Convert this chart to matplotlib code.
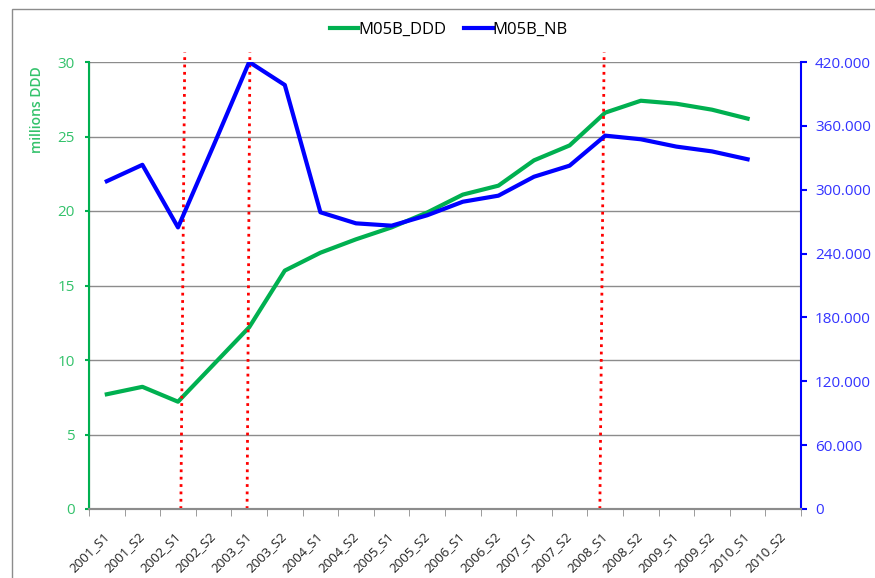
import matplotlib.pyplot as plt
from matplotlib.patches import Rectangle
from matplotlib.ticker import FuncFormatter, MultipleLocator

plt.rcParams['font.family'] = ['Open Sans', 'DejaVu Sans']

# categories (half-years), 2010_S2 has no data yet
periods = ['2001_S1', '2001_S2', '2002_S1', '2002_S2', '2003_S1', '2003_S2',
           '2004_S1', '2004_S2', '2005_S1', '2005_S2', '2006_S1', '2006_S2',
           '2007_S1', '2007_S2', '2008_S1', '2008_S2', '2009_S1', '2009_S2',
           '2010_S1', '2010_S2']

# millions of DDD (left axis)
ddd = [7.7, 8.2, 7.2, 9.7, 12.2, 16.0, 17.2, 18.1, 18.9, 19.9, 21.1, 21.7,
       23.4, 24.4, 26.6, 27.4, 27.2, 26.8, 26.2]

# number of boxes (right axis)
nb = [308000, 323400, 264600, 341600, 420000, 398400, 278800, 268400, 266200,
      276000, 288700, 294400, 312200, 322600, 350800, 347400, 340500, 336000,
      328600]

# red dotted markers (bottom x, top x) in category units
events = [(2.08, 2.19), (3.94, 4.02), (13.85, 13.97)]

green = '#00B050'
blue = '#0000FF'

fig = plt.figure(figsize=(8.75, 5.78), dpi=100)
fig.patches.append(Rectangle((12 / 875, -0.1), 1.2, 1.1 - 9 / 578,
                             transform=fig.transFigure, fill=False,
                             edgecolor='#8c8c8c', linewidth=1))

ax = fig.add_axes([89 / 875, 69 / 578, 712 / 875, 447 / 578])
ax2 = ax.twinx()

x = list(range(len(ddd)))
l1, = ax.plot(x, ddd, color=green, linewidth=3, label='M05B_DDD',
              solid_joinstyle='round', zorder=3)
l2, = ax2.plot(x, nb, color=blue, linewidth=3, label='M05B_NB',
               solid_joinstyle='round', zorder=3)

ax.set_xlim(-0.5, len(periods) - 0.5)
ax.set_ylim(0, 30)
ax2.set_ylim(0, 420000)
ax.yaxis.set_major_locator(MultipleLocator(5))
ax2.yaxis.set_major_locator(MultipleLocator(60000))
ax2.yaxis.set_major_formatter(
    FuncFormatter(lambda v, p: '0' if v == 0 else f'{int(v):,}'.replace(',', '.')))

ax.grid(axis='y', color='#8c8c8c', linewidth=1)
ax.set_axisbelow(True)

# category labels at centres, tick marks at the boundaries
ax.set_xticks(x + [len(ddd)])
ax.set_xticklabels(periods, rotation=45, ha='right', va='center',
                   rotation_mode='anchor', fontsize=9.5, color='#222222')
ax.set_xticks([i - 0.5 for i in range(len(periods) + 1)], minor=True)
ax.tick_params(axis='x', which='major', length=0, pad=18)
ax.tick_params(axis='x', which='minor', length=5, color='#8c8c8c')

ax.tick_params(axis='y', colors=green, labelcolor='#33C26B', labelsize=11,
               length=3, width=1.5, pad=7)
ax2.tick_params(axis='y', colors=blue, labelcolor='#3333FF', labelsize=11,
                length=4, width=1.5, pad=6)

for a in (ax, ax2):
    a.spines['top'].set_visible(False)
    a.spines['bottom'].set_color('#8c8c8c')
    a.spines['bottom'].set_linewidth(1.5)
ax.spines['right'].set_visible(False)
ax2.spines['left'].set_color(green)
ax2.spines['left'].set_linewidth(1.5)
ax2.spines['right'].set_color(blue)
ax2.spines['right'].set_linewidth(1.5)

ax.set_ylabel('millions DDD', color='#33C26B', fontsize=10, fontweight='semibold')
ax.yaxis.set_label_coords(-0.063, 0.893)

for xb, xt in events:
    ax.plot([xb, xt], [0, 1.022], transform=ax.get_xaxis_transform(),
            color='red', linestyle=':', linewidth=2, clip_on=False, zorder=4)

fig.legend(handles=[l1, l2], loc='center', bbox_to_anchor=(0.513, 1 - 30 / 578),
           ncol=2, frameon=False, fontsize=12, handlelength=1.7,
           handletextpad=0.0, columnspacing=1.1)

fig.savefig('out.png', dpi=100)
